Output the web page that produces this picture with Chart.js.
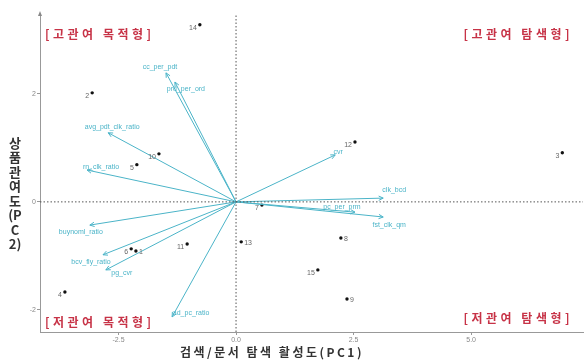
<!DOCTYPE html>
<html>
<head>
<meta charset="utf-8">
<script src="https://cdn.jsdelivr.net/npm/chart.js@4.4.0/dist/chart.umd.min.js"></script>
<style>
  html, body { margin: 0; padding: 0; background: #fff; }
  #wrap { width: 584px; height: 361px; }
</style>
</head>
<body>
<div id="wrap"><canvas id="biplot"></canvas></div>
<script>
// observation scores (PC1, PC2)
const pointIds = ['1', '2', '3', '4', '5', '6', '7', '8', '9', '10', '11', '12', '13', '14', '15'];
const pc1 = [-2.13, -3.06, 6.94, -3.64, -2.11, -2.23, 0.55, 2.23, 2.36, -1.64, -1.04, 2.53, 0.11, -0.77, 1.74];
const pc2 = [-0.91, 2.02, 0.91, -1.67, 0.69, -0.87, -0.06, -0.67, -1.80, 0.89, -0.78, 1.11, -0.74, 3.28, -1.26];

// variable loadings (arrows)
const varNames = ['cc_per_pdt', 'prd_per_ord', 'avg_pdt_clk_ratio', 'rn_clk_ratio', 'buynoml_ratio',
  'bcv_fly_ratio', 'pg_cvr', 'ad_pc_ratio', 'cvr', 'clk_bcd', 'pc_per_prm', 'fst_clk_qm'];
const loadX = [-1.49, -1.30, -2.72, -3.17, -3.11, -2.83, -2.77, -1.36, 2.11, 3.13, 2.53, 3.13];
const loadY = [2.39, 2.22, 1.28, 0.59, -0.43, -0.98, -1.26, -2.13, 0.87, 0.07, -0.19, -0.28];

const xTicks = [-2.5, 0, 2.5, 5];
const yTicks = [-2, 0, 2];
const xRange = [-4.17, 7.38];
const yRange = [-2.41, 3.48];

const quadrantLabels = ['[고관여 목적형]', '[고관여 탐색형]', '[저관여 목적형]', '[저관여 탐색형]'];
const xTitle = '검색/문서 탐색 활성도(PC1)';
const yTitle = ['상', '품', '관', '여', '도', '(P', 'C', '2)'];

const arrowColor = '#4bb4c8';
const redText = '#c73347';

// label placement (pixels from the mark)
const vecLabelShift = [[-6, -6], [11, 7], [4, -6], [14, -3], [-9, 7], [-12, 7],
  [16, 3], [19, -4], [3, -3], [11, -8], [-13, -5], [6, 8]];
const rightSide = ['1', '8', '9', '13'];

const biplotText = {
  id: 'biplotText',
  afterDatasetsDraw(chart) {
    const { ctx, chartArea, scales: { x, y } } = chart;
    const x0 = x.getPixelForValue(0);
    const y0 = y.getPixelForValue(0);
    ctx.save();

    // arrow heads + variable names
    ctx.font = '7px "Liberation Sans", Arial, sans-serif';
    ctx.textAlign = 'center';
    ctx.textBaseline = 'middle';
    varNames.forEach((name, i) => {
      const x1 = x.getPixelForValue(loadX[i]);
      const y1 = y.getPixelForValue(loadY[i]);
      const a = Math.atan2(y1 - y0, x1 - x0);
      ctx.strokeStyle = arrowColor;
      ctx.lineWidth = 1;
      ctx.beginPath();
      ctx.moveTo(x1 - 5 * Math.cos(a - 0.45), y1 - 5 * Math.sin(a - 0.45));
      ctx.lineTo(x1, y1);
      ctx.lineTo(x1 - 5 * Math.cos(a + 0.45), y1 - 5 * Math.sin(a + 0.45));
      ctx.stroke();
      ctx.fillStyle = arrowColor;
      ctx.fillText(name, x1 + vecLabelShift[i][0], y1 + vecLabelShift[i][1]);
    });

    // observation numbers
    ctx.fillStyle = '#666';
    pointIds.forEach((id, i) => {
      const px = x.getPixelForValue(pc1[i]);
      const py = y.getPixelForValue(pc2[i]);
      if (rightSide.includes(id)) {
        ctx.textAlign = 'left';
        ctx.fillText(id, px + 3, py + 1);
      } else {
        ctx.textAlign = 'right';
        ctx.fillText(id, px - 3, py + 3);
      }
    });

    // quadrant names
    ctx.font = 'bold 12px "Noto Sans CJK KR", sans-serif';
    ctx.letterSpacing = '3.5px';
    ctx.fillStyle = redText;
    ctx.textAlign = 'left';
    ctx.fillText(quadrantLabels[0], chartArea.left + 5, chartArea.top + 20);
    ctx.fillText(quadrantLabels[2], chartArea.left + 5, chartArea.bottom - 10);
    ctx.textAlign = 'right';
    ctx.fillText(quadrantLabels[1], chartArea.right - 10, chartArea.top + 20);
    ctx.fillText(quadrantLabels[3], chartArea.right - 10, chartArea.bottom - 14);

    // axis titles
    ctx.fillStyle = '#333';
    ctx.font = 'bold 12px "Noto Sans CJK KR", sans-serif';
    ctx.letterSpacing = '2.5px';
    ctx.textAlign = 'center';
    ctx.fillText(xTitle, chartArea.left + 232, chartArea.bottom + 20);
    ctx.font = 'bold 13px "Noto Sans CJK KR", sans-serif';
    ctx.letterSpacing = '0px';
    yTitle.forEach((ch, k) => {
      ctx.fillText(ch, 15, 143 + k * 14.5);
    });

    // arrow tip on the y axis
    ctx.fillStyle = '#888';
    ctx.beginPath();
    ctx.moveTo(chartArea.left, chartArea.top - 3);
    ctx.lineTo(chartArea.left - 2, chartArea.top + 2);
    ctx.lineTo(chartArea.left + 2, chartArea.top + 2);
    ctx.closePath();
    ctx.fill();
    ctx.restore();
  }
};

const arrowSets = varNames.map((name, i) => ({
  label: name,
  data: [{ x: 0, y: 0 }, { x: loadX[i], y: loadY[i] }],
  showLine: true,
  borderColor: arrowColor,
  borderWidth: 1,
  pointRadius: 0,
}));

const zeroLines = [
  { label: 'v0', data: [{ x: 0, y: yRange[0] }, { x: 0, y: yRange[1] }] },
  { label: 'h0', data: [{ x: xRange[0], y: 0 }, { x: xRange[1], y: 0 }] },
].map(d => ({ ...d, showLine: true, borderColor: '#555', borderWidth: 1, borderDash: [1.5, 2], pointRadius: 0 }));

const myChart = new Chart(document.getElementById('biplot'), {
  type: 'scatter',
  data: {
    datasets: [
      ...zeroLines,
      ...arrowSets,
      {
        label: 'scores',
        data: pc1.map((v, i) => ({ x: v, y: pc2[i] })),
        backgroundColor: '#111',
        borderWidth: 0,
        pointRadius: 1.7,
      },
    ],
  },
  options: {
    responsive: true,
    maintainAspectRatio: false,
    animation: false,
    layout: { padding: { left: 0, right: 1, top: 14, bottom: 0 }, autoPadding: false },
    plugins: { legend: { display: false }, tooltip: { enabled: false } },
    scales: {
      x: {
        type: 'linear',
        min: xRange[0],
        max: xRange[1],
        afterBuildTicks: (scale) => { scale.ticks = xTicks.map(v => ({ value: v })); },
        afterFit: (scale) => { scale.height = 29; },
        ticks: {
          padding: 1,
          maxRotation: 0,
          color: '#888',
          font: { size: 7, family: '"Liberation Sans", Arial, sans-serif' },
          callback: (v) => v.toFixed(1),
        },
        grid: { drawOnChartArea: false, tickLength: 3, color: '#999' },
        border: { color: '#999', width: 1 },
      },
      y: {
        type: 'linear',
        min: yRange[0],
        max: yRange[1],
        afterBuildTicks: (scale) => { scale.ticks = yTicks.map(v => ({ value: v })); },
        afterFit: (scale) => { scale.width = 40; },
        ticks: {
          padding: 1,
          color: '#888',
          font: { size: 7, family: '"Liberation Sans", Arial, sans-serif' },
          callback: (v) => String(v),
        },
        grid: { drawOnChartArea: false, tickLength: 3, color: '#999' },
        border: { color: '#999', width: 1 },
      },
    },
  },
  plugins: [biplotText],
});
</script>
</body>
</html>
